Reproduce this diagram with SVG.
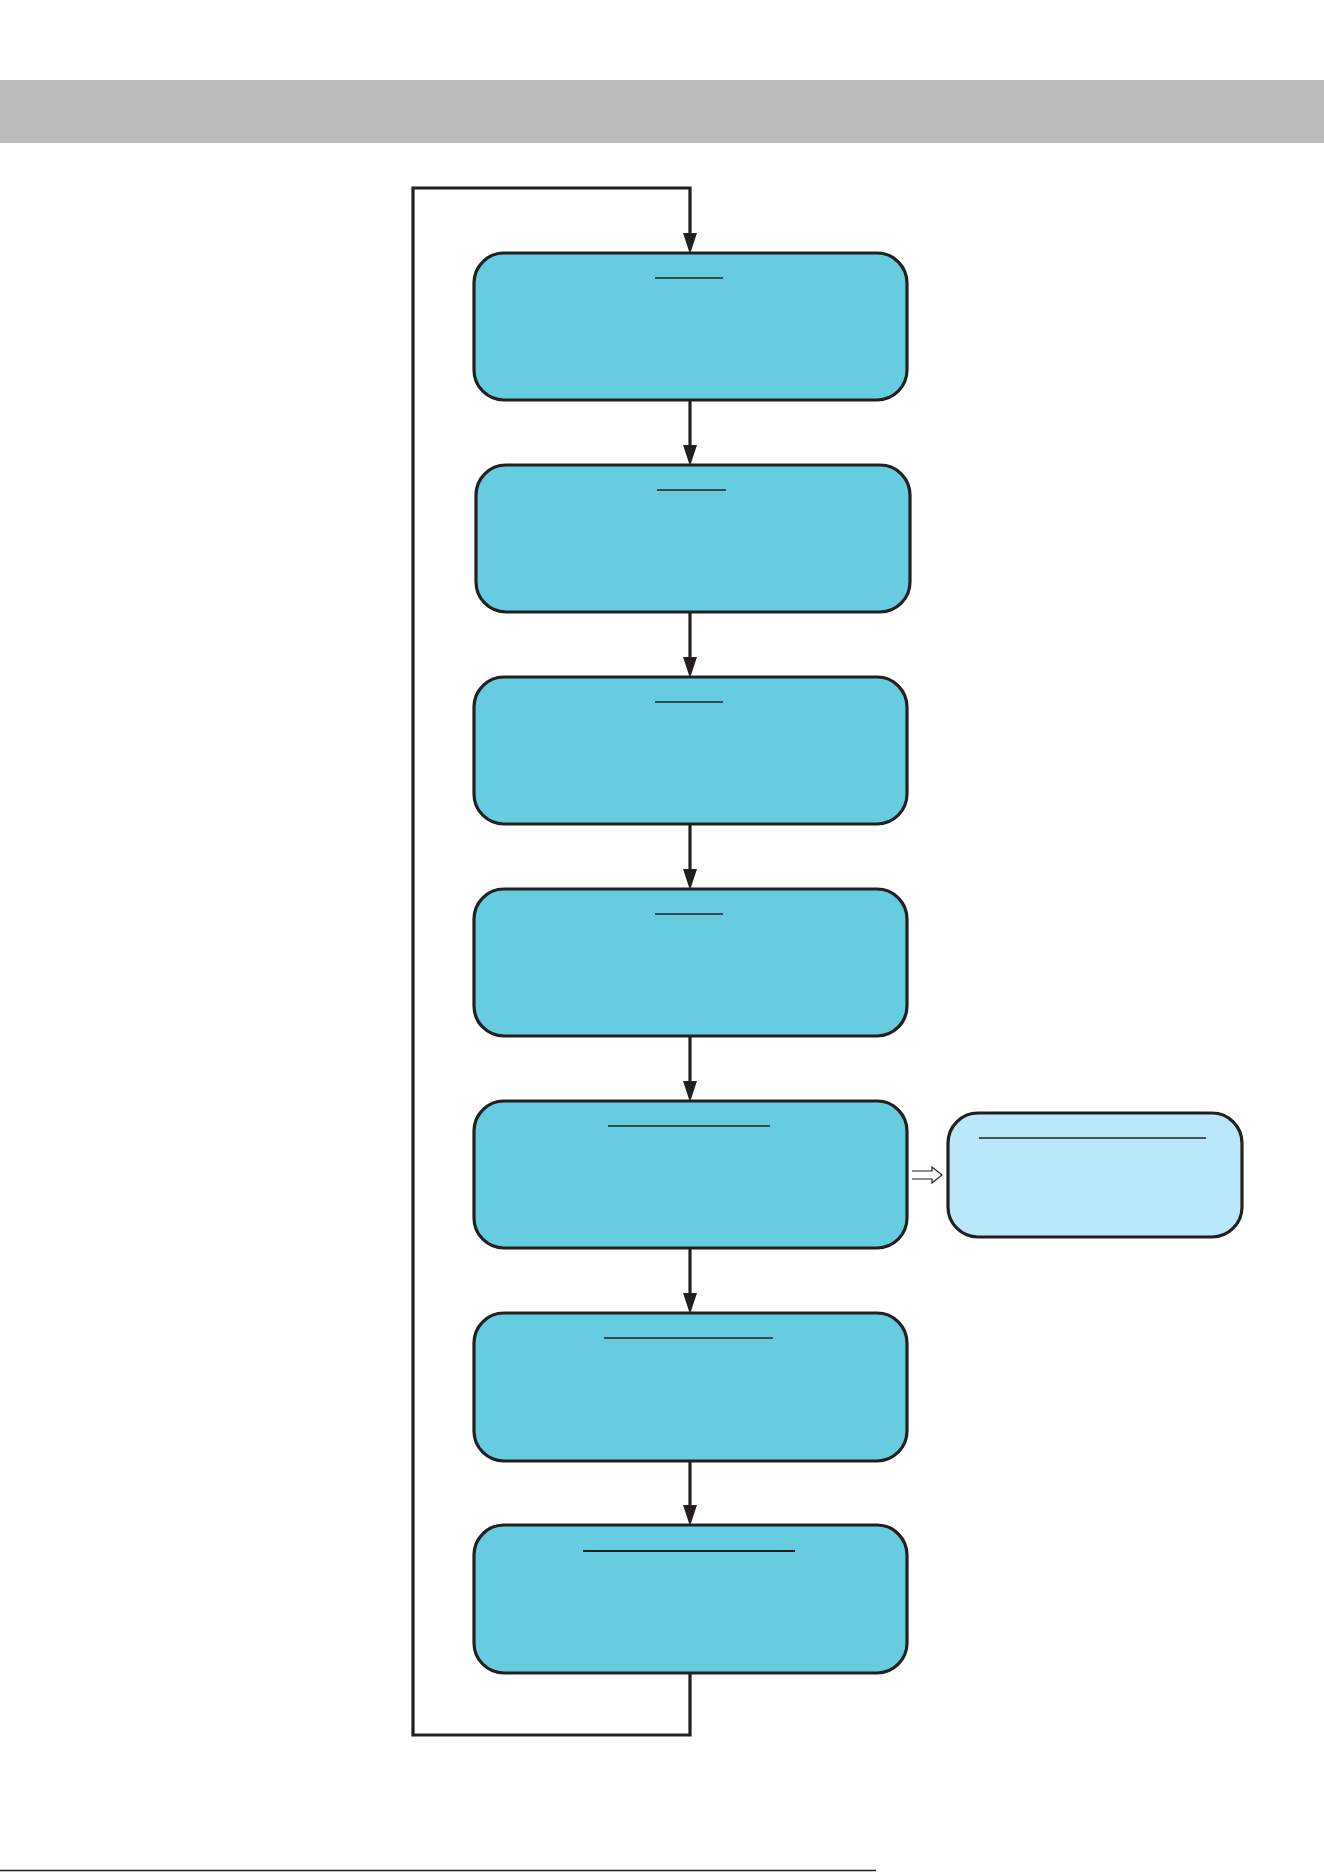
<svg xmlns="http://www.w3.org/2000/svg" width="1324" height="1872" viewBox="0 0 1324 1872">
<style>
.box{fill:#66CCE0;stroke:#231F20;stroke-width:3.2}
.side{fill:#B8E8F9;stroke:#231F20;stroke-width:3.2}
.ul{stroke:#231F20;stroke-width:1.4}
.conn{fill:none;stroke:#231F20;stroke-width:3.2}
.head{fill:#231F20}
</style>
<rect x="0" y="80" width="1324" height="63" fill="#BBBBBB"/>
<g id="connectors">
<path class="conn" d="M690,1673 V1735 H413 V188 H690 V234"/>
<path class="head" d="M683,233 L697,233 L690,254 Z"/>
<path class="conn" d="M690,400 V446"/>
<path class="head" d="M683,445 L697,445 L690,466 Z"/>
<path class="conn" d="M690,612 V658"/>
<path class="head" d="M683,657 L697,657 L690,678 Z"/>
<path class="conn" d="M690,824 V870"/>
<path class="head" d="M683,869 L697,869 L690,890 Z"/>
<path class="conn" d="M690,1036 V1082"/>
<path class="head" d="M683,1081 L697,1081 L690,1102 Z"/>
<path class="conn" d="M690,1248 V1294"/>
<path class="head" d="M683,1293 L697,1293 L690,1314 Z"/>
<path class="conn" d="M690,1461 V1506"/>
<path class="head" d="M683,1505 L697,1505 L690,1526 Z"/>
<path d="M912,1171 H932 V1167 L942,1175 L932,1183 V1179 H912" fill="#fff" stroke="#231F20" stroke-width="1.2"/>
</g>
<g id="node1"><rect class="box" x="474" y="253" width="433" height="147" rx="30"/><line class="ul" x1="655" y1="278" x2="723" y2="278"/></g>
<g id="node2"><rect class="box" x="476" y="465" width="434" height="147" rx="30"/><line class="ul" x1="657" y1="490" x2="726" y2="490"/></g>
<g id="node3"><rect class="box" x="474" y="677" width="433" height="147" rx="30"/><line class="ul" x1="655" y1="702" x2="723" y2="702"/></g>
<g id="node4"><rect class="box" x="474" y="889" width="433" height="147" rx="30"/><line class="ul" x1="655" y1="914" x2="723" y2="914"/></g>
<g id="node5"><rect class="box" x="474" y="1101" width="433" height="147" rx="30"/><line class="ul" x1="608" y1="1126" x2="770" y2="1126"/></g>
<g id="node6"><rect class="box" x="474" y="1313" width="433" height="148" rx="30"/><line class="ul" x1="604" y1="1338" x2="773" y2="1338"/></g>
<g id="node7"><rect class="box" x="474" y="1525" width="433" height="148" rx="30"/><line class="ul" x1="583" y1="1551" x2="795" y2="1551" style="stroke-width:1.8"/></g>
<g id="node8"><rect class="side" x="948" y="1113" width="294" height="124" rx="30"/><line class="ul" x1="979" y1="1138" x2="1206" y2="1138"/></g>
<line x1="0" y1="1870.5" x2="876" y2="1870.5" stroke="#231F20" stroke-width="1.6"/>
</svg>
